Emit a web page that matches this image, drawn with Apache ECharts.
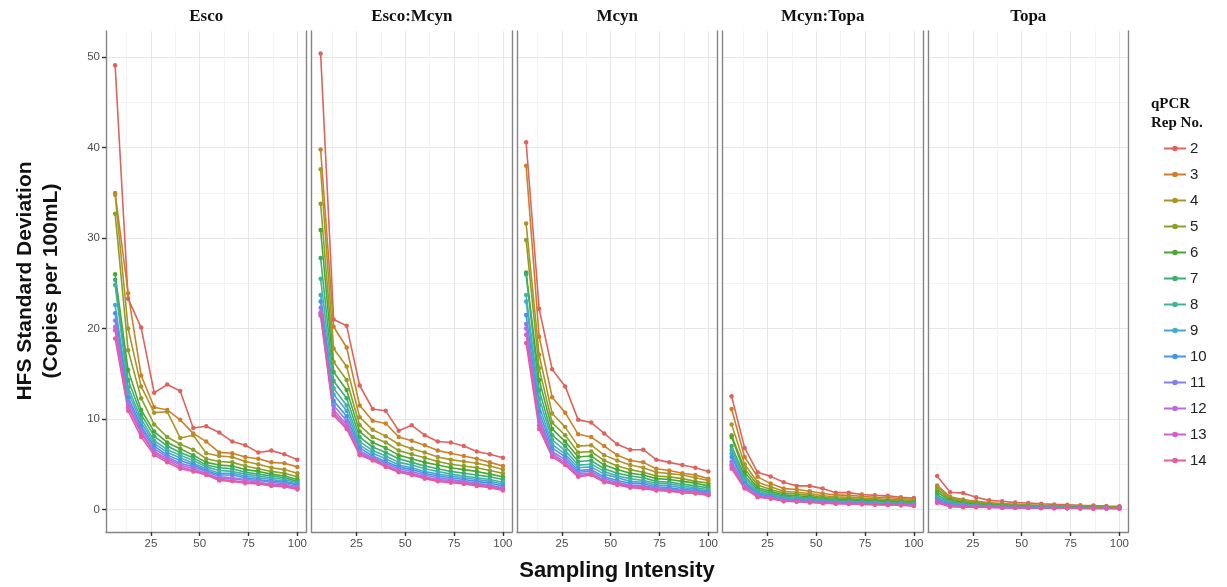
<!DOCTYPE html>
<html>
<head>
<meta charset="utf-8">
<script src="https://cdn.jsdelivr.net/npm/echarts@6/dist/echarts.min.js"></script>
<style>
  html, body { margin: 0; padding: 0; background: #fff; }
  #chart { width: 1227px; height: 587px; }
</style>
</head>
<body>
<div id="chart"></div>
<script>
// sampling intensity (x) shared by every facet
const intensity = [6.67, 13.33, 20, 26.67, 33.33, 40, 46.67, 53.33, 60, 66.67, 73.33, 80, 86.67, 93.33, 100]
const reps = ['2', '3', '4', '5', '6', '7', '8', '9', '10', '11', '12', '13', '14']
const facets = ['Esco', 'Esco:Mcyn', 'Mcyn', 'Mcyn:Topa', 'Topa']
const xTicks = [25, 50, 75, 100]
const yTicks = [0, 10, 20, 30, 40, 50]

// one row per qPCR rep (2..14)
const esco = [
  [49.1, 23.3, 20.1, 12.9, 13.8, 13.1, 9.0, 9.2, 8.5, 7.5, 7.1, 6.3, 6.5, 6.1, 5.5],
  [35.0, 23.9, 14.8, 11.3, 11.0, 9.9, 8.4, 7.5, 6.3, 6.2, 5.8, 5.6, 5.2, 5.1, 4.7],
  [34.8, 20.0, 13.6, 10.7, 10.8, 7.9, 8.2, 6.2, 5.9, 5.8, 5.3, 5.0, 4.6, 4.4, 4.0],
  [32.7, 17.6, 12.3, 9.4, 8.0, 7.2, 6.6, 5.6, 5.3, 5.2, 4.8, 4.5, 4.2, 4.0, 3.6],
  [26.0, 15.4, 11.0, 8.6, 7.4, 6.7, 6.0, 5.2, 4.9, 4.8, 4.4, 4.2, 3.9, 3.7, 3.3],
  [25.4, 14.3, 10.5, 8.1, 7.0, 6.3, 5.7, 4.9, 4.6, 4.5, 4.1, 3.9, 3.7, 3.5, 3.1],
  [24.8, 13.5, 10.0, 7.6, 6.6, 6.0, 5.4, 4.7, 4.3, 4.2, 3.9, 3.7, 3.5, 3.3, 2.95],
  [22.6, 13.0, 9.6, 7.3, 6.3, 5.7, 5.1, 4.5, 4.0, 4.0, 3.7, 3.5, 3.3, 3.1, 2.8],
  [21.7, 12.4, 9.2, 7.0, 6.0, 5.4, 4.9, 4.3, 3.8, 3.8, 3.5, 3.3, 3.1, 3.0, 2.7],
  [20.9, 12.0, 8.9, 6.7, 5.8, 5.1, 4.7, 4.2, 3.6, 3.5, 3.3, 3.2, 3.0, 2.8, 2.55],
  [20.2, 11.6, 8.6, 6.4, 5.6, 4.9, 4.5, 4.0, 3.4, 3.4, 3.2, 3.0, 2.8, 2.7, 2.4],
  [19.8, 11.3, 8.4, 6.2, 5.4, 4.7, 4.3, 3.9, 3.3, 3.2, 3.0, 2.9, 2.7, 2.6, 2.3],
  [18.9, 10.9, 8.0, 6.0, 5.2, 4.5, 4.2, 3.8, 3.2, 3.1, 2.9, 2.8, 2.6, 2.5, 2.2]
]
const escoMcyn = [
  [50.4, 21.0, 20.3, 13.7, 11.1, 10.9, 8.7, 9.3, 8.2, 7.5, 7.4, 7.0, 6.4, 6.1, 5.7],
  [39.8, 20.2, 17.9, 11.5, 9.8, 9.5, 8.0, 7.6, 7.1, 6.5, 6.2, 5.9, 5.6, 5.2, 4.8],
  [37.6, 17.8, 15.8, 10.2, 8.8, 8.1, 7.2, 6.7, 6.3, 5.8, 5.5, 5.3, 5.1, 4.8, 4.4],
  [33.8, 16.3, 14.3, 9.3, 8.0, 7.4, 6.5, 6.1, 5.7, 5.3, 5.0, 4.8, 4.6, 4.3, 4.0],
  [30.9, 15.2, 13.2, 8.6, 7.4, 6.8, 6.0, 5.6, 5.2, 4.9, 4.6, 4.4, 4.2, 3.9, 3.6],
  [27.8, 14.2, 12.3, 8.0, 6.9, 6.3, 5.6, 5.2, 4.8, 4.5, 4.2, 4.0, 3.8, 3.6, 3.3],
  [25.5, 13.4, 11.5, 7.5, 6.5, 5.9, 5.2, 4.9, 4.5, 4.2, 3.9, 3.7, 3.5, 3.3, 3.0],
  [23.7, 12.7, 10.9, 7.1, 6.2, 5.6, 4.9, 4.6, 4.2, 3.9, 3.7, 3.5, 3.3, 3.1, 2.8],
  [23.0, 12.0, 10.3, 6.8, 5.9, 5.3, 4.7, 4.4, 4.0, 3.7, 3.5, 3.3, 3.1, 2.9, 2.6],
  [22.3, 11.5, 9.8, 6.5, 5.7, 5.1, 4.5, 4.2, 3.8, 3.5, 3.3, 3.1, 2.9, 2.7, 2.4],
  [21.8, 11.0, 9.4, 6.3, 5.6, 4.9, 4.3, 4.0, 3.6, 3.3, 3.2, 3.0, 2.8, 2.6, 2.3],
  [21.6, 10.7, 9.1, 6.1, 5.5, 4.8, 4.2, 3.9, 3.5, 3.2, 3.05, 2.9, 2.7, 2.5, 2.2],
  [21.4, 10.4, 8.9, 6.0, 5.4, 4.7, 4.1, 3.8, 3.4, 3.1, 2.95, 2.8, 2.6, 2.4, 2.1]
]
const mcyn = [
  [40.6, 22.2, 15.5, 13.6, 9.9, 9.6, 8.4, 7.2, 6.6, 6.6, 5.5, 5.2, 4.9, 4.6, 4.2],
  [38.0, 19.1, 12.4, 10.7, 8.3, 8.0, 7.0, 6.0, 5.4, 5.2, 4.5, 4.3, 4.0, 3.8, 3.4],
  [31.6, 17.1, 10.6, 9.1, 7.0, 7.1, 6.0, 5.4, 4.9, 4.6, 4.1, 3.95, 3.8, 3.5, 3.2],
  [29.8, 15.6, 9.6, 8.2, 6.3, 6.4, 5.4, 4.8, 4.4, 4.1, 3.7, 3.6, 3.4, 3.1, 2.9],
  [26.2, 14.3, 8.9, 7.5, 5.8, 5.9, 4.9, 4.4, 4.0, 3.8, 3.4, 3.3, 3.1, 2.9, 2.6],
  [26.0, 13.2, 8.2, 7.0, 5.3, 5.4, 4.5, 4.0, 3.7, 3.5, 3.1, 3.0, 2.8, 2.6, 2.4],
  [23.7, 12.3, 7.7, 6.5, 4.9, 5.0, 4.2, 3.7, 3.4, 3.2, 2.9, 2.8, 2.6, 2.4, 2.2],
  [23.0, 11.5, 7.2, 6.1, 4.6, 4.7, 3.9, 3.5, 3.1, 3.0, 2.7, 2.6, 2.4, 2.25, 2.0],
  [21.5, 10.8, 6.8, 5.8, 4.3, 4.4, 3.6, 3.2, 2.9, 2.8, 2.5, 2.4, 2.2, 2.1, 1.9],
  [20.5, 10.2, 6.4, 5.5, 4.1, 4.2, 3.4, 3.0, 2.7, 2.6, 2.4, 2.25, 2.1, 2.0, 1.8],
  [20.0, 9.7, 6.2, 5.2, 3.9, 4.0, 3.2, 2.9, 2.6, 2.5, 2.25, 2.15, 2.0, 1.9, 1.7],
  [19.3, 9.3, 6.0, 5.0, 3.7, 3.9, 3.1, 2.8, 2.5, 2.4, 2.15, 2.05, 1.9, 1.8, 1.6],
  [18.4, 8.9, 5.8, 4.9, 3.6, 3.8, 3.0, 2.7, 2.4, 2.3, 2.1, 2.0, 1.85, 1.75, 1.55]
]
const mcynTopa = [
  [12.5, 6.8, 4.1, 3.65, 3.0, 2.6, 2.6, 2.3, 1.85, 1.85, 1.65, 1.55, 1.5, 1.35, 1.25],
  [11.1, 5.8, 3.6, 2.85, 2.3, 2.2, 2.0, 1.75, 1.6, 1.55, 1.45, 1.35, 1.3, 1.2, 1.1],
  [9.4, 5.0, 3.0, 2.5, 2.0, 1.9, 1.75, 1.5, 1.4, 1.35, 1.25, 1.2, 1.1, 1.05, 0.95],
  [8.2, 4.5, 2.7, 2.2, 1.8, 1.7, 1.55, 1.35, 1.25, 1.2, 1.1, 1.05, 1.0, 0.95, 0.85],
  [8.0, 4.1, 2.4, 2.0, 1.6, 1.5, 1.4, 1.2, 1.1, 1.05, 1.0, 0.95, 0.9, 0.85, 0.75],
  [7.0, 3.7, 2.2, 1.8, 1.45, 1.35, 1.25, 1.1, 1.0, 0.95, 0.9, 0.85, 0.8, 0.75, 0.68],
  [6.6, 3.4, 2.0, 1.65, 1.3, 1.25, 1.15, 1.0, 0.9, 0.88, 0.82, 0.78, 0.72, 0.68, 0.6],
  [6.2, 3.1, 1.85, 1.55, 1.2, 1.15, 1.05, 0.92, 0.83, 0.8, 0.75, 0.7, 0.66, 0.62, 0.55],
  [5.8, 2.9, 1.7, 1.45, 1.1, 1.05, 0.95, 0.85, 0.77, 0.74, 0.7, 0.65, 0.6, 0.57, 0.5],
  [5.3, 2.7, 1.6, 1.35, 1.03, 0.98, 0.9, 0.8, 0.72, 0.7, 0.65, 0.6, 0.56, 0.53, 0.46],
  [5.0, 2.55, 1.5, 1.28, 0.97, 0.93, 0.85, 0.75, 0.68, 0.66, 0.61, 0.57, 0.53, 0.5, 0.43],
  [4.8, 2.4, 1.42, 1.22, 0.92, 0.88, 0.8, 0.71, 0.65, 0.62, 0.58, 0.54, 0.5, 0.47, 0.4],
  [4.5, 2.3, 1.35, 1.18, 0.9, 0.85, 0.77, 0.68, 0.62, 0.6, 0.56, 0.52, 0.48, 0.45, 0.37]
]
const topa = [
  [3.7, 1.9, 1.8, 1.35, 1.0, 0.9, 0.75, 0.7, 0.62, 0.55, 0.5, 0.45, 0.42, 0.37, 0.35],
  [2.65, 1.4, 1.1, 0.9, 0.75, 0.65, 0.55, 0.5, 0.46, 0.42, 0.38, 0.35, 0.33, 0.3, 0.28],
  [2.5, 1.3, 1.0, 0.8, 0.65, 0.58, 0.5, 0.45, 0.41, 0.38, 0.34, 0.32, 0.3, 0.28, 0.25],
  [2.2, 1.15, 0.85, 0.7, 0.57, 0.5, 0.44, 0.4, 0.36, 0.33, 0.3, 0.28, 0.26, 0.24, 0.22],
  [1.9, 1.0, 0.75, 0.6, 0.5, 0.44, 0.39, 0.35, 0.32, 0.3, 0.27, 0.25, 0.23, 0.21, 0.2],
  [1.6, 0.85, 0.65, 0.52, 0.44, 0.39, 0.34, 0.31, 0.28, 0.26, 0.24, 0.22, 0.2, 0.19, 0.18],
  [1.35, 0.75, 0.56, 0.46, 0.39, 0.34, 0.3, 0.27, 0.25, 0.23, 0.21, 0.2, 0.18, 0.17, 0.16],
  [1.2, 0.66, 0.5, 0.41, 0.35, 0.3, 0.27, 0.24, 0.22, 0.2, 0.19, 0.18, 0.16, 0.15, 0.14],
  [1.05, 0.58, 0.44, 0.37, 0.31, 0.27, 0.24, 0.22, 0.2, 0.18, 0.17, 0.16, 0.15, 0.14, 0.13],
  [0.95, 0.5, 0.39, 0.33, 0.28, 0.25, 0.22, 0.2, 0.18, 0.17, 0.16, 0.15, 0.14, 0.13, 0.12],
  [0.85, 0.42, 0.34, 0.3, 0.25, 0.22, 0.2, 0.18, 0.16, 0.15, 0.14, 0.13, 0.12, 0.12, 0.11],
  [0.78, 0.35, 0.3, 0.27, 0.23, 0.2, 0.18, 0.16, 0.15, 0.14, 0.13, 0.12, 0.11, 0.11, 0.1],
  [0.7, 0.3, 0.25, 0.24, 0.21, 0.18, 0.16, 0.15, 0.14, 0.13, 0.12, 0.11, 0.1, 0.1, 0.09]
]
const facetData = [esco, escoMcyn, mcyn, mcynTopa, topa]

const colors = ['#dc645e', '#cd802a', '#ab952a', '#8c9f28', '#4aa832', '#3cae6e', '#44b39c',
  '#47aacb', '#4596e2', '#8480e8', '#bb6ae5', '#d85ccb', '#df5f9d']

const chart = echarts.init(document.getElementById('chart'))

const panelLeft = 106
const panelW = 200.5
const panelStep = 205.5
const panelTop = 31
const panelBottom = 532

let grids = [], xAxes = [], yAxes = [], series = [], texts = []

facets.forEach((name, i) => {
  const left = panelLeft + i * panelStep
  grids.push({left: left, top: panelTop, width: panelW, height: panelBottom - panelTop})

  // main x axis: bottom border, ticks, labels, major grid lines
  xAxes.push({
    type: 'value', gridIndex: i, min: 2, max: 104.67, position: 'bottom',
    axisLine: {show: true, onZero: false, lineStyle: {color: '#858585', width: 1.4}},
    axisTick: {show: true, customValues: xTicks, length: 4, lineStyle: {color: '#333', width: 1.4}},
    axisLabel: {customValues: xTicks, color: '#4d4d4d', fontSize: 11.5, fontFamily: 'Liberation Sans', margin: 6},
    splitLine: {show: true, lineStyle: {color: '#e6e6e6', width: 1}}
  })
  // minor x grid lines
  xAxes.push({
    type: 'value', gridIndex: i, min: 2, max: 104.67, position: 'top',
    axisLine: {show: false, onZero: false},
    axisTick: {show: false, customValues: [12.5, 37.5, 62.5, 87.5]},
    axisLabel: {show: false, customValues: [12.5, 37.5, 62.5, 87.5]},
    splitLine: {show: true, lineStyle: {color: '#f3f3f3', width: 1}}
  })
  yAxes.push({
    type: 'value', gridIndex: i, min: -2.5, max: 52.9, position: 'left',
    axisLine: {show: true, onZero: false, lineStyle: {color: '#858585', width: 1.4}},
    axisTick: {show: i === 0, customValues: yTicks, length: 4, lineStyle: {color: '#333', width: 1.4}},
    axisLabel: {show: i === 0, customValues: yTicks, color: '#4d4d4d', fontSize: 11.5, fontFamily: 'Liberation Sans', margin: 6},
    splitLine: {show: true, lineStyle: {color: '#e6e6e6', width: 1}}
  })
  // right border + minor y grid lines
  yAxes.push({
    type: 'value', gridIndex: i, min: -2.5, max: 52.9, position: 'right',
    axisLine: {show: true, onZero: false, lineStyle: {color: '#858585', width: 1.4}},
    axisTick: {show: false, customValues: [5, 15, 25, 35, 45]},
    axisLabel: {show: false, customValues: [5, 15, 25, 35, 45]},
    splitLine: {show: true, lineStyle: {color: '#f3f3f3', width: 1}}
  })

  facetData[i].forEach((vals, r) => {
    series.push({
      name: reps[r],
      type: 'line',
      xAxisIndex: 2 * i,
      yAxisIndex: 2 * i,
      data: intensity.map((x, j) => [x, vals[j]]),
      symbol: 'circle',
      symbolSize: 4.5,
      color: colors[r],
      lineStyle: {width: 1.6},
      emphasis: {disabled: true}
    })
  })

  texts.push({
    type: 'text', x: left + panelW / 2, y: 17,
    style: {text: name, font: 'bold 17px "Liberation Serif"', fill: '#111', align: 'center', verticalAlign: 'middle'}
  })
})

texts.push({
  type: 'text', x: 38, y: 281, rotation: Math.PI / 2,
  style: {text: 'HFS Standard Deviation\n(Copies per 100mL)', font: 'bold 21px "Liberation Sans"', lineHeight: 26,
    fill: '#111', align: 'center', verticalAlign: 'middle'}
})
texts.push({
  type: 'text', x: 617, y: 571,
  style: {text: 'Sampling Intensity', font: 'bold 22px "Liberation Sans"', fill: '#111', align: 'center', verticalAlign: 'middle'}
})
texts.push({
  type: 'text', x: 1151, y: 95,
  style: {text: 'qPCR\nRep No.', font: 'bold 15px "Liberation Serif"', lineHeight: 19, fill: '#111', align: 'left', verticalAlign: 'top'}
})

chart.setOption({
  animation: false,
  backgroundColor: '#fff',
  grid: grids,
  xAxis: xAxes,
  yAxis: yAxes,
  legend: {
    data: reps,
    orient: 'vertical',
    left: 1158,
    top: 136,
    itemWidth: 22,
    itemHeight: 7,
    itemGap: 11,
    textStyle: {fontSize: 15, fontFamily: 'Liberation Sans', color: '#222', lineHeight: 15, padding: [0, 0, 0, -1]}
  },
  graphic: texts,
  series: series
})
</script>
</body>
</html>
